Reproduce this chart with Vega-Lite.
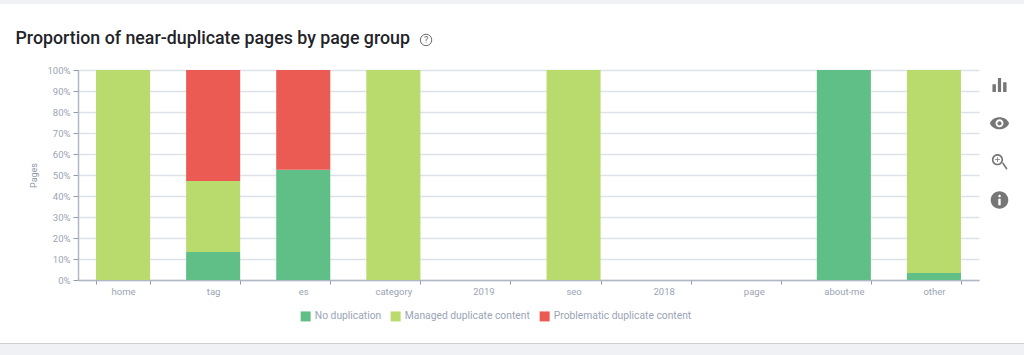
{"$schema":"https://vega.github.io/schema/vega-lite/v6.json","padding":0,"background":"#ffffff","spacing":0,"bounds":"flush","config":{"font":"Roboto","view":{"stroke":null},"concat":{"spacing":0}},"vconcat":[{"width":1024,"height":4,"view":{"fill":"#eff1f5","stroke":null},"data":{"values":[{"a":1}]},"mark":{"type":"rect","opacity":0},"encoding":{}},{"width":1024,"height":66,"data":{"values":[{"a":1}]},"mark":{"type":"rect","opacity":0},"encoding":{}},{"spacing":0,"bounds":"flush","hconcat":[{"width":77.5,"height":210,"data":{"values":[{"a":1}]},"mark":{"type":"rect","opacity":0},"encoding":{}},{"width":901,"height":210,"title":{"text":"Proportion of near-duplicate pages by page group","anchor":"start","frame":"group","dx":-62.5,"offset":-16,"fontSize":17.8,"fontWeight":500,"color":"#1f2429","font":"Roboto"},"data":{"values":[{"group":"home","status":"No duplication","share":0,"rank":1},{"group":"home","status":"Managed duplicate content","share":1,"rank":2},{"group":"home","status":"Problematic duplicate content","share":0,"rank":3},{"group":"tag","status":"No duplication","share":0.133,"rank":1},{"group":"tag","status":"Managed duplicate content","share":0.338,"rank":2},{"group":"tag","status":"Problematic duplicate content","share":0.529,"rank":3},{"group":"es","status":"No duplication","share":0.525,"rank":1},{"group":"es","status":"Managed duplicate content","share":0,"rank":2},{"group":"es","status":"Problematic duplicate content","share":0.475,"rank":3},{"group":"category","status":"Managed duplicate content","share":1,"rank":2},{"group":"seo","status":"Managed duplicate content","share":1,"rank":2},{"group":"about-me","status":"No duplication","share":1,"rank":1},{"group":"other","status":"No duplication","share":0.033,"rank":1},{"group":"other","status":"Managed duplicate content","share":0.967,"rank":2}]},"encoding":{"x":{"field":"group","type":"nominal","sort":null,"title":null,"scale":{"domain":["home","tag","es","category","2019","seo","2018","page","about-me","other"],"paddingInner":0.4,"paddingOuter":0.2},"axis":{"labelAngle":0,"labelColor":"#9aa4b5","labelFontSize":9.5,"labelPadding":2,"tickBand":"extent","tickColor":"#8f9bad","tickSize":4,"domainColor":"#aeb8c7","domainWidth":1.5,"grid":false}}},"layer":[{"mark":{"type":"bar"},"encoding":{"y":{"field":"share","type":"quantitative","stack":"zero","title":"Pages","scale":{"domain":[0,1],"nice":false},"axis":{"values":[0,0.1,0.2,0.3,0.4,0.5,0.6,0.7,0.8,0.9,1],"format":".0%","labelColor":"#9aa4b5","labelFontSize":9.5,"labelPadding":3,"labelOverlap":false,"titleColor":"#8d97a8","titleFontSize":9,"titleFontWeight":"normal","titlePadding":9,"tickColor":"#8f9bad","tickSize":5,"domainColor":"#aeb8c7","domainWidth":1.5,"gridColor":"#dde1e8","gridWidth":1.5}},"color":{"field":"status","type":"nominal","sort":null,"scale":{"domain":["No duplication","Managed duplicate content","Problematic duplicate content"],"range":["#5fbf87","#b9db6e","#ec5a54"]},"legend":{"title":null,"orient":"none","direction":"horizontal","legendX":222.5,"legendY":241,"symbolType":"square","symbolSize":100,"symbolStrokeWidth":0,"symbolOpacity":1,"labelColor":"#9aa4b5","labelFontSize":10.3,"columnPadding":9}},"order":{"field":"rank","type":"quantitative"}}},{"data":{"values":[{"group":"category","level":1.143,"mark":"?"}]},"mark":{"type":"point","filled":false,"color":"#6b6b6b","opacity":1,"size":130,"strokeWidth":1,"xOffset":32.7},"encoding":{"y":{"field":"level","type":"quantitative","title":"Pages","axis":{"values":[0,0.1,0.2,0.3,0.4,0.5,0.6,0.7,0.8,0.9,1],"format":".0%","labelColor":"#9aa4b5","labelFontSize":9.5,"labelPadding":3,"labelOverlap":false,"titleColor":"#8d97a8","titleFontSize":9,"titleFontWeight":"normal","titlePadding":9,"tickColor":"#8f9bad","tickSize":5,"domainColor":"#aeb8c7","domainWidth":1.5,"gridColor":"#dde1e8","gridWidth":1.5}}}},{"data":{"values":[{"group":"category","level":1.143,"mark":"?"}]},"mark":{"type":"text","color":"#6b6b6b","fontSize":9,"xOffset":32.7},"encoding":{"y":{"field":"level","type":"quantitative","title":"Pages","axis":{"values":[0,0.1,0.2,0.3,0.4,0.5,0.6,0.7,0.8,0.9,1],"format":".0%","labelColor":"#9aa4b5","labelFontSize":9.5,"labelPadding":3,"labelOverlap":false,"titleColor":"#8d97a8","titleFontSize":9,"titleFontWeight":"normal","titlePadding":9,"tickColor":"#8f9bad","tickSize":5,"domainColor":"#aeb8c7","domainWidth":1.5,"gridColor":"#dde1e8","gridWidth":1.5}},"text":{"field":"mark","type":"nominal"}}}]},{"width":41,"height":210,"data":{"values":[{"icon":"chart"},{"icon":"view"},{"icon":"zoom"},{"icon":"info"}]},"mark":{"type":"point","filled":true,"color":"#767676","opacity":1,"size":256},"encoding":{"y":{"field":"icon","type":"nominal","sort":null,"axis":null,"scale":{"type":"point","domain":["chart","view","zoom","info"],"range":[15,130],"padding":0}},"shape":{"field":"icon","type":"nominal","legend":null,"scale":{"domain":["chart","view","zoom","info"],"range":["M-.88 .88V-0.1H-0.45V.88Z M-0.2 .88V-.88H0.2V.88Z M0.45 .88V-0.35H.88V.88Z","M-1.2 0C-0.8 -1 0.8 -1 1.2 0C0.8 1 -0.8 1 -1.2 0Z M-.5 0A.5 .5 0 0 0 .5 0A.5 .5 0 0 0 -.5 0Z M-.27 0A.27 .27 0 0 1 .27 0A.27 .27 0 0 1 -.27 0Z","M-.95 -.25A.7 .7 0 0 1 .45 -.25A.7 .7 0 0 1 -.95 -.25Z M-.75 -.25A.5 .5 0 0 0 .25 -.25A.5 .5 0 0 0 -.75 -.25Z M-.38 -.3H-.3V-.55H-.2V-.3H.05V-.2H-.2V.05H-.3V-.2H-.55V-.3Z M.33 .22L.47 .08L1 .85L.85 1Z","M-1.1 0A1.1 1.1 0 0 1 1.1 0A1.1 1.1 0 0 1 -1.1 0Z M-.15 -.5A.16 .16 0 0 0 .17 -.5A.16 .16 0 0 0 -.15 -.5Z M-.15 -.15V.65H.15V-.15Z"]}}}}],"resolve":{"scale":{"x":"independent","y":"independent","color":"independent","shape":"independent"}}},{"width":1024,"height":273,"data":{"values":[{"a":1}]},"mark":{"type":"rect","opacity":0},"encoding":{}},{"width":1024,"height":1,"view":{"fill":"#cdcfd3","stroke":null},"data":{"values":[{"a":1}]},"mark":{"type":"rect","opacity":0},"encoding":{}},{"width":1024,"height":11,"view":{"fill":"#eff1f5","stroke":null},"data":{"values":[{"a":1}]},"mark":{"type":"rect","opacity":0},"encoding":{}}]}
